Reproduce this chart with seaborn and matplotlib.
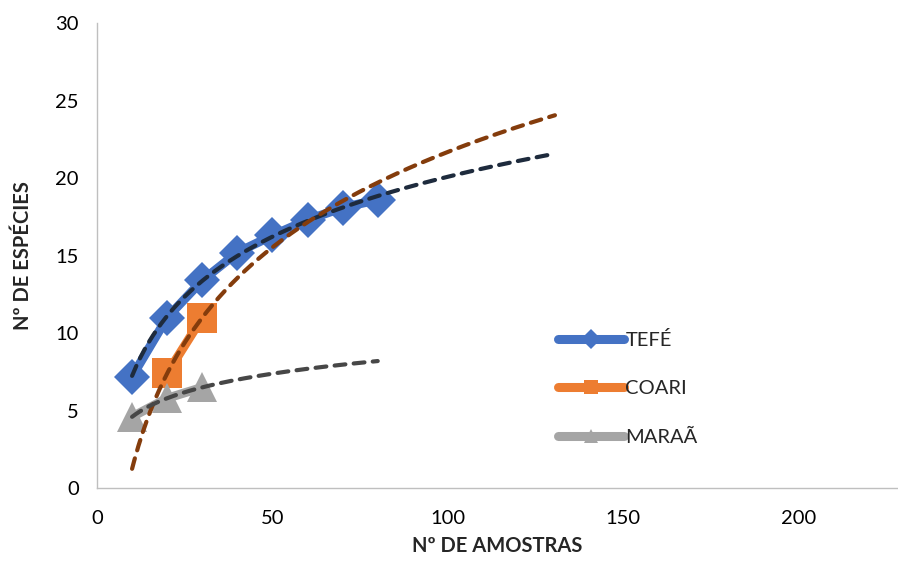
import matplotlib
matplotlib.use("Agg")
from matplotlib import pyplot as plt
from matplotlib.lines import Line2D
import seaborn as sns
import pandas as pd
import numpy as np

sns.set_style("white")
plt.rcParams['font.family'] = ['Lato', 'DejaVu Sans']

# data
tefe_x = [10, 20, 30, 40, 50, 60, 70, 80]
tefe_y = [7.2, 11.0, 13.4, 15.2, 16.3, 17.3, 18.1, 18.6]
coari_x = [20, 30]
coari_y = [7.4, 11.0]
maraa_x = [10, 20, 30]
maraa_y = [4.6, 5.8, 6.5]

# how far each log trendline is drawn
trend_end = {"TEFÉ": 128.5, "COARI": 130.5, "MARAÃ": 80}
trend_start = {"TEFÉ": 10, "COARI": 10, "MARAÃ": 10}

series = [
    ("TEFÉ", tefe_x, tefe_y, "#4472C4", "D", 18, "#1E2B3D"),
    ("COARI", coari_x, coari_y, "#ED7D31", "s", 21, "#843C0C"),
    ("MARAÃ", maraa_x, maraa_y, "#A5A5A5", "^", 21, "#474747"),
]

fig = plt.figure(figsize=(8.98, 5.63), dpi=100)
ax = fig.add_axes([0.108, 0.133, 0.891, 0.826])

handles = []
for name, xs, ys, col, mk, ms, tcol in series:
    df = pd.DataFrame({"x": xs, "y": ys})
    sns.lineplot(data=df, x="x", y="y", ax=ax, color=col, linewidth=6.5,
                 marker=mk, markersize=ms, markeredgewidth=0,
                 solid_capstyle="round", zorder=2)
    handles.append(Line2D([0], [0], color=col, linewidth=6.5, marker=mk,
                          markersize=10, markeredgewidth=0,
                          solid_capstyle="round", label=name))

# logarithmic trendlines (fit like Excel)
for name, xs, ys, col, mk, ms, tcol in series:
    a, b = np.polyfit(np.log(xs), ys, 1)
    tx = np.linspace(trend_start[name], trend_end[name], 200)
    tdf = pd.DataFrame({"x": tx, "y": a * np.log(tx) + b})
    sns.lineplot(data=tdf, x="x", y="y", ax=ax, color=tcol, linewidth=3,
                 dashes=False, zorder=3)
    ax.lines[-1].set_dashes((2.6, 2.0))
    ax.lines[-1].set_dash_capstyle("round")

ax.set_xlim(0, 228)
ax.set_ylim(0, 30)
ax.set_xticks([0, 50, 100, 150, 200])
ax.set_yticks(range(0, 31, 5))
ax.tick_params(axis="both", labelsize=14.5, colors="#000000", length=5,
               width=1, direction="out")
ax.tick_params(axis="x", pad=11)
ax.tick_params(axis="y", pad=8)
ax.tick_params(axis="both", color="#BFBFBF")
for s in ["top", "right"]:
    ax.spines[s].set_visible(False)
for s in ["left", "bottom"]:
    ax.spines[s].set_color("#BFBFBF")
    ax.spines[s].set_linewidth(1)

ax.set_xlabel("Nº DE AMOSTRAS", fontsize=14.5, fontweight="bold", labelpad=6)
ax.set_ylabel("Nº DE ESPÉCIES", fontsize=14.5, fontweight="bold", labelpad=16)

ax.legend(handles=handles, loc="upper left", bbox_to_anchor=(0.566, 0.355),
          frameon=False, fontsize=14.5, handlelength=3.3, labelspacing=1.55,
          handletextpad=0.05, borderaxespad=0)

fig.savefig("out.png", dpi=100)
